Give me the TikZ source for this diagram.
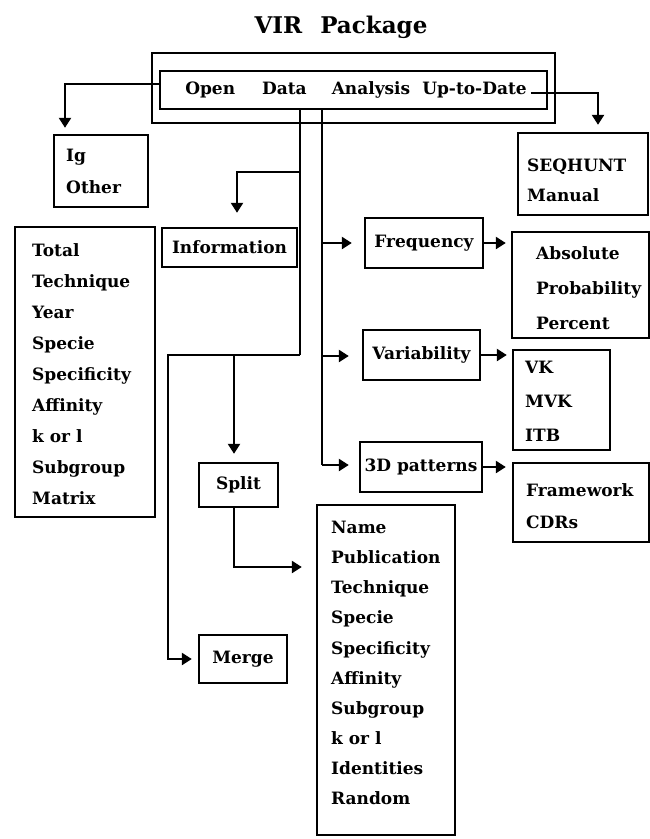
\documentclass[tikz,border=0pt]{standalone}
\usepackage{fontspec}
\setmainfont{DejaVu Serif}
\usetikzlibrary{arrows.meta}
\begin{document}
\begin{tikzpicture}[x=1pt,y=-1pt,
  every node/.style={font=\bfseries\fontsize{17}{20}\selectfont, inner sep=0pt},
  box/.style={draw, line width=2.4pt, inner sep=0pt},
  ln/.style={line width=2.4pt},
  arr/.style={line width=2.4pt, -{Triangle[length=10pt,width=12pt]}},
  lst/.style={align=left, anchor=west},
]
\useasboundingbox (0,0) rectangle (650,839);

% title and main menu
\node[font=\bfseries\fontsize{23}{26}\selectfont] (title) at (341,27) {VIR\hspace{18pt}Package};
\node[box, minimum width=403pt, minimum height=70pt] (outer) at (353.5,88) {};
\node[box, minimum width=387pt, minimum height=38pt] (inner) at (353.5,90) {};
\node (menu) at (356,90) {Open\hspace{27pt}Data\hspace{25pt}Analysis\hspace{12pt}Up-to-Date};

% boxes
\node[box, minimum width=94pt, minimum height=72pt] (ig) at (101,171) {};
\node[lst, font=\bfseries\fontsize{17}{32}\selectfont] (igt) at (66,171) {Ig\\Other};

\node[box, minimum width=130pt, minimum height=82pt] (seq) at (583,174) {};
\node[lst, font=\bfseries\fontsize{17}{30}\selectfont] (seqt) at (527,180) {SEQHUNT\\Manual};

\node[box, minimum width=135pt, minimum height=39pt] (info) at (229.5,247.5) {Information};

\node[box, minimum width=140pt, minimum height=290pt] (total) at (85,372) {};
\node[lst, font=\bfseries\fontsize{17}{31}\selectfont] (totalt) at (32,374) {Total\\Technique\\Year\\Specie\\Specificity\\Affinity\\k or l\\Subgroup\\Matrix};

\node[box, minimum width=118pt, minimum height=50pt] (freq) at (424,243) {Frequency};
\node[box, minimum width=137pt, minimum height=106pt] (abs) at (580.5,285) {};
\node[lst, font=\bfseries\fontsize{17}{35}\selectfont] (abst) at (536,288) {Absolute\\Probability\\Percent};

\node[box, minimum width=117pt, minimum height=50pt] (var) at (421.5,355) {Variability};
\node[box, minimum width=97pt, minimum height=100pt] (vk) at (561.5,400) {};
\node[lst, font=\bfseries\fontsize{17}{34}\selectfont] (vkt) at (525,401) {VK\\MVK\\ITB};

\node[box, minimum width=122pt, minimum height=50pt] (pat) at (421,467) {3D patterns};
\node[box, minimum width=136pt, minimum height=79pt] (fw) at (581,502.5) {};
\node[lst, font=\bfseries\fontsize{17}{32}\selectfont] (fwt) at (526,506) {Framework\\CDRs};

\node[box, minimum width=79pt, minimum height=44pt] (split) at (238.5,485) {Split};
\node[box, minimum width=88pt, minimum height=48pt] (merge) at (243,659) {Merge};

\node[box, minimum width=138pt, minimum height=330pt] (namebox) at (386,670) {};
\node[lst, font=\bfseries\fontsize{17}{30.1}\selectfont] (namet) at (331,663) {Name\\Publication\\Technique\\Specie\\Specificity\\Affinity\\Subgroup\\k or l\\Identities\\Random};

% junctions
\coordinate (jInfo) at (300,172);
\coordinate (jA) at (300,355);
\coordinate (jSplit) at (234,355);
\coordinate (jB1) at (322,243);
\coordinate (jB2) at (322,356);
\coordinate (jB3) at (322,465);

% connectors from the menu
\draw[arr, shorten >=6pt] (inner.west |- 0,84) -- (65,84) -- (65,0 |- ig.north);
\draw[arr, shorten >=7pt] (menu.east) ++(4,3) -- (598,93) -- (598,0 |- seq.north);

\draw[ln] (300,0 |- inner.south) -- (jA);
\draw[arr, shorten >=14pt] (jInfo) -| (237,0 |- info.north);
\draw[arr, shorten >=6pt] (jA) -| (168,0 |- merge.west) -- (merge.west);
\draw[arr, shorten >=8pt] (jSplit) -- (234,0 |- split.north);
\draw[arr, shorten >=14pt] (234,0 |- split.south) -- (234,567) -- (namebox.west |- 0,567);

\draw[ln] (322,0 |- inner.south) -- (jB3);
\draw[arr, shorten >=12pt] (jB1) -- (freq.west);
\draw[arr, shorten >=13pt] (jB2) -- (var.west |- jB2);
\draw[arr, shorten >=10pt] (jB3) -- (pat.west |- jB3);

\draw[arr, shorten >=5pt] (freq.east) -- (abs.west |- freq.east);
\draw[arr, shorten >=5pt] (var.east) -- (vk.west |- var.east);
\draw[arr, shorten >=6pt] (pat.east) -- (fw.west |- pat.east);
\end{tikzpicture}
\end{document}
